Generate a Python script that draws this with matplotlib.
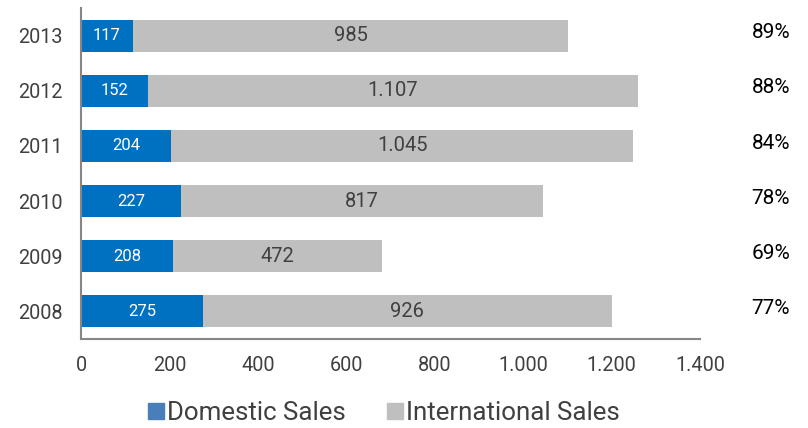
import matplotlib
matplotlib.use("Agg")
import matplotlib.pyplot as plt
from matplotlib.patches import Patch
from matplotlib.ticker import FuncFormatter

years = ["2008", "2009", "2010", "2011", "2012", "2013"]
domestic = [275, 208, 227, 204, 152, 117]
international = [926, 472, 817, 1045, 1107, 985]
intl_share = ["77%", "69%", "78%", "84%", "88%", "89%"]

BLUE = "#0070C0"
GRAY = "#BFBFBF"

plt.rcParams["font.family"] = ["Roboto", "DejaVu Sans"]


def dotted(v):
    # thousands separator as a dot
    return f"{int(v):,}".replace(",", ".")


fig = plt.figure(figsize=(8.08, 4.28), dpi=100)
ax = fig.add_axes([81 / 808, 89 / 428, 619 / 808, 331 / 428])

pos = list(range(len(years)))
ax.barh(pos, domestic, height=0.58, color=BLUE)
ax.barh(pos, international, left=domestic, height=0.58, color=GRAY)

for i in pos:
    ax.text(domestic[i] / 2, i, dotted(domestic[i]), ha="center", va="center",
            color="white", fontsize=12)
    ax.text(domestic[i] + international[i] / 2, i, dotted(international[i]),
            ha="center", va="center", color="#404040", fontsize=14.5)
    ax.text(1.083, i + 0.05, intl_share[i], transform=ax.get_yaxis_transform(),
            ha="left", va="center", color="black", fontsize=15)

ax.set_xlim(0, 1400)
ax.set_ylim(-0.5, 5.5)
ax.set_xticks(range(0, 1401, 200))
ax.xaxis.set_major_formatter(FuncFormatter(lambda v, p: dotted(v)))
ax.set_yticks(pos)
ax.set_yticklabels(years)
ax.tick_params(length=0, labelsize=14.3, colors="#404040")
ax.tick_params(axis="x", pad=12)
ax.tick_params(axis="y", pad=13)
for s in ["top", "right"]:
    ax.spines[s].set_visible(False)
for s in ["left", "bottom"]:
    ax.spines[s].set_color("#868686")
    ax.spines[s].set_linewidth(1.5)

handles = [Patch(color="#4A7EBB", label="Domestic Sales"),
           Patch(color=GRAY, label="International Sales")]
fig.legend(handles=handles, loc="center", bbox_to_anchor=(384 / 808, 15 / 428),
           ncol=2, frameon=False, fontsize=18.6, handlelength=0.62,
           handleheight=0.62, handletextpad=0.12, columnspacing=1.6,
           labelcolor="#404040")

fig.savefig("out.png", dpi=100)
